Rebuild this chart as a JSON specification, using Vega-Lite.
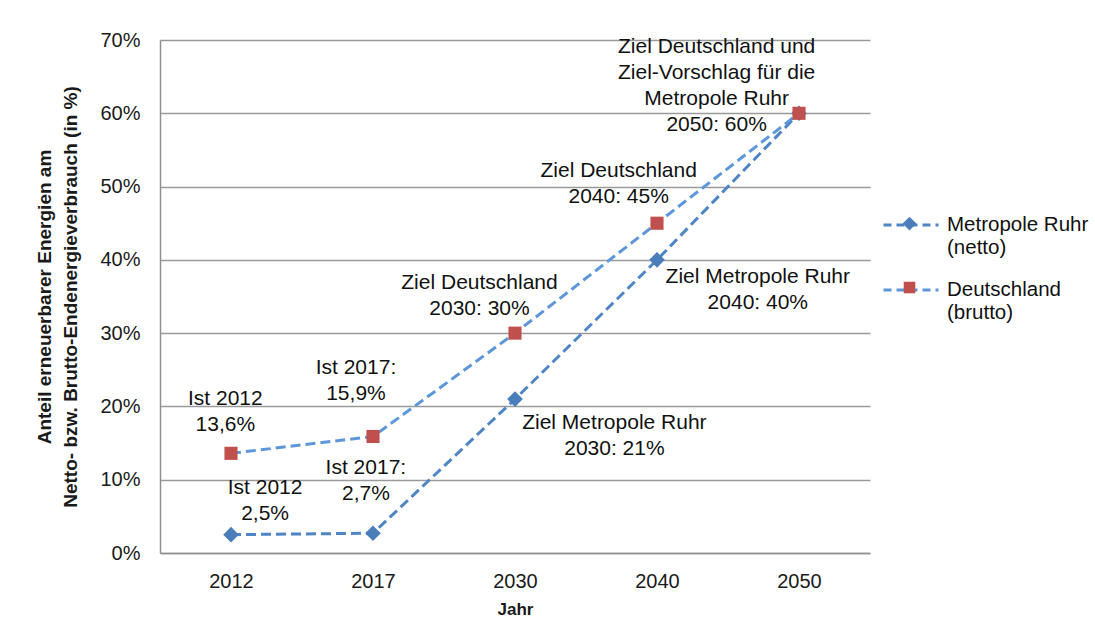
{
  "$schema": "https://vega.github.io/schema/vega-lite/v6.json",
  "width": 710,
  "height": 513,
  "autosize": {"type": "none"},
  "padding": {"left": 160, "top": 40, "right": 225, "bottom": 65},
  "background": "white",
  "config": {
    "font": "Liberation Sans",
    "view": {"stroke": null},
    "axis": {
      "labelFont": "Liberation Sans",
      "titleFont": "Liberation Sans",
      "labelColor": "#1a1a1a",
      "titleColor": "#1a1a1a",
      "ticks": false,
      "domainColor": "#8f8f8f",
      "domainWidth": 1.5,
      "gridColor": "#9a9a9a",
      "gridWidth": 1.5
    }
  },
  "datasets": {
    "series": [
      {"year": "2012", "series": "Metropole Ruhr (netto)", "pct": 2.5},
      {"year": "2017", "series": "Metropole Ruhr (netto)", "pct": 2.7},
      {"year": "2030", "series": "Metropole Ruhr (netto)", "pct": 21},
      {"year": "2040", "series": "Metropole Ruhr (netto)", "pct": 40},
      {"year": "2050", "series": "Metropole Ruhr (netto)", "pct": 60},
      {"year": "2012", "series": "Deutschland (brutto)", "pct": 13.6},
      {"year": "2017", "series": "Deutschland (brutto)", "pct": 15.9},
      {"year": "2030", "series": "Deutschland (brutto)", "pct": 30},
      {"year": "2040", "series": "Deutschland (brutto)", "pct": 45},
      {"year": "2050", "series": "Deutschland (brutto)", "pct": 60}
    ],
    "notes": [
      {"pos": -0.04, "pct": 21.0, "lines": ["Ist 2012", "13,6%"]},
      {"pos": 0.88, "pct": 25.2, "lines": ["Ist 2017:", "15,9%"]},
      {"pos": 0.24, "pct": 8.9, "lines": ["Ist 2012", "2,5%"]},
      {"pos": 0.95, "pct": 11.6, "lines": ["Ist 2017:", "2,7%"]},
      {"pos": 1.75, "pct": 36.8, "lines": ["Ziel Deutschland", "2030: 30%"]},
      {"pos": 2.70, "pct": 17.7, "lines": ["Ziel Metropole Ruhr", "2030: 21%"]},
      {"pos": 2.73, "pct": 52.1, "lines": ["Ziel Deutschland", "2040: 45%"]},
      {"pos": 3.71, "pct": 37.7, "lines": ["Ziel Metropole Ruhr", "2040: 40%"]},
      {"pos": 3.42, "pct": 69.1, "lines": ["Ziel Deutschland und", "Ziel-Vorschlag für die", "Metropole Ruhr", "2050: 60%"]}
    ]
  },
  "layer": [
    {
      "data": {"name": "series"},
      "layer": [
        {
          "mark": {"type": "line", "strokeDash": [10, 5], "strokeWidth": 3},
          "encoding": {
            "x": {
              "field": "year",
              "type": "ordinal",
              "axis": {
                "labelAngle": 0,
                "labelFontSize": 20,
                "labelPadding": 18,
                "title": "Jahr",
                "titleFontSize": 17,
                "titleFontWeight": "bold",
                "titlePadding": 10,
                "grid": false
              }
            },
            "y": {
              "field": "pct",
              "type": "quantitative",
              "scale": {"domain": [0, 70]},
              "axis": {
                "values": [0, 10, 20, 30, 40, 50, 60, 70],
                "labelExpr": "datum.value + '%'",
                "labelFontSize": 20,
                "labelPadding": 20,
                "grid": true,
                "title": ["Anteil erneuerbarer Energien am", "Netto- bzw. Brutto-Endenergieverbrauch (in %)"],
                "titleFontSize": 19,
                "titleFontWeight": "bold",
                "titleLineHeight": 26,
                "titlePadding": 19
              }
            },
            "stroke": {
              "field": "series",
              "type": "nominal",
              "sort": ["Metropole Ruhr (netto)", "Deutschland (brutto)"],
              "scale": {"range": ["#4F85C5", "#5D97D9"]},
              "legend": {
                "orient": "none",
                "legendX": 722,
                "legendY": 156,
                "title": null,
                "padding": 0,
                "symbolType": "stroke",
                "symbolSize": 3025,
                "symbolStrokeWidth": 3,
                "symbolDash": [8, 5],
                "labelFont": "Liberation Sans",
                "labelFontSize": 20.5,
                "labelColor": "#111111",
                "labelOffset": 7,
                "labelLimit": 300,
                "rowPadding": 3,
                "labelExpr": "[split(datum.label, ' (')[0], '(' + split(datum.label, ' (')[1]]"
              }
            }
          }
        },
        {
          "mark": {"type": "point", "filled": true, "size": 3906, "opacity": 1, "strokeWidth": 0},
          "encoding": {
            "x": {"field": "year", "type": "ordinal"},
            "y": {"field": "pct", "type": "quantitative"},
            "fill": {
              "field": "series",
              "type": "nominal",
              "scale": {"domain": ["Metropole Ruhr (netto)", "Deutschland (brutto)"], "range": ["#4A7EBB", "#C0504D"]},
              "legend": {
                "orient": "none",
                "legendX": 722,
                "legendY": 156,
                "title": null,
                "padding": 0,
                "symbolSize": 3025,
                "symbolStrokeWidth": 0,
                "symbolOpacity": 1,
                "labelFont": "Liberation Sans",
                "labelFontSize": 20.5,
                "labelOpacity": 0,
                "labelOffset": 7,
                "labelLimit": 300,
                "rowPadding": 3,
                "labelExpr": "['', '']"
              }
            },
            "shape": {
              "field": "series",
              "type": "nominal",
              "scale": {
                "domain": ["Metropole Ruhr (netto)", "Deutschland (brutto)"],
                "range": ["M0,-0.25L0.25,0L0,0.25L-0.25,0Z", "M-0.21,-0.21H0.21V0.21H-0.21Z"]
              },
              "legend": {
                "orient": "none",
                "legendX": 722,
                "legendY": 156,
                "title": null,
                "padding": 0,
                "symbolSize": 3025,
                "symbolStrokeWidth": 0,
                "labelFont": "Liberation Sans",
                "labelFontSize": 20.5,
                "labelOpacity": 0,
                "labelOffset": 7,
                "labelLimit": 300,
                "rowPadding": 3,
                "labelExpr": "['', '']"
              }
            }
          }
        }
      ]
    },
    {
      "data": {"name": "notes"},
      "mark": {"type": "text", "align": "center", "baseline": "middle", "fontSize": 21, "lineHeight": 26, "font": "Liberation Sans", "color": "#111111"},
      "encoding": {
        "x": {"field": "pos", "type": "quantitative", "scale": {"domain": [-0.5, 4.5], "nice": false, "zero": false}, "axis": null},
        "y": {"field": "pct", "type": "quantitative"},
        "text": {"field": "lines", "type": "nominal"}
      }
    }
  ],
  "resolve": {"scale": {"x": "independent"}}
}
